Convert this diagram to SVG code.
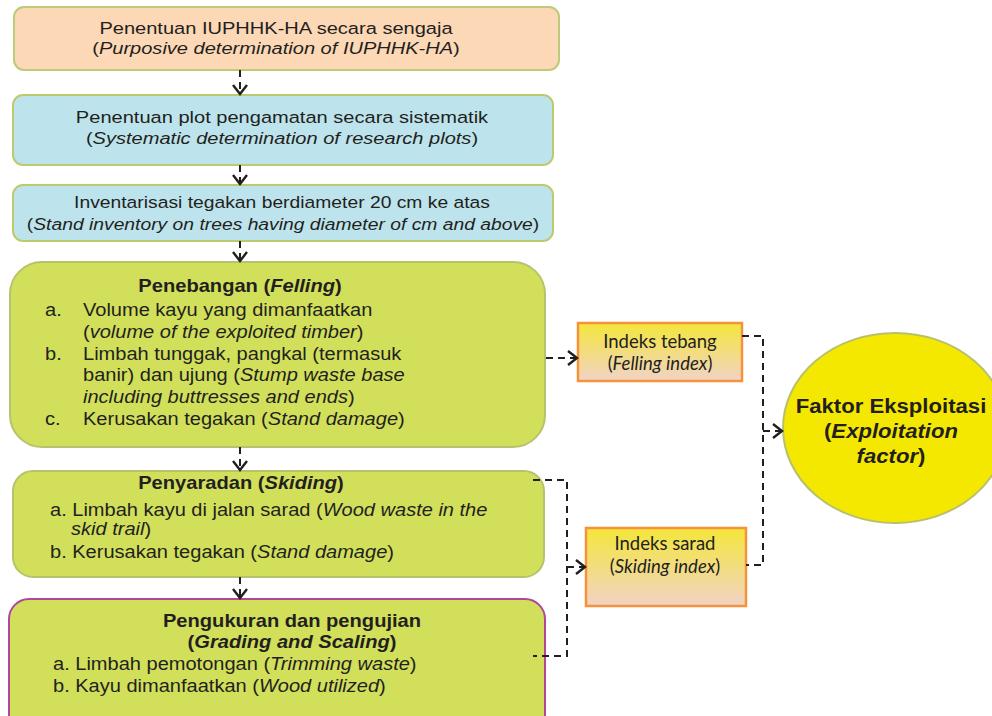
<svg xmlns="http://www.w3.org/2000/svg" width="992" height="716" viewBox="0 0 992 716">
<style>
.t{font-family:"Liberation Sans",Arial,sans-serif;fill:#231f20}
.s0{font-size:17px}
.s1{font-size:16.5px}
.s2{font-size:17.5px}
.s3{font-size:20.5px;font-weight:bold}
.b{font-weight:bold}
.m{text-anchor:middle}
.idx{font-family:Lato,"Open Sans",sans-serif;font-size:18.5px;fill:#231f20;text-anchor:middle}
.peach{fill:#fdd8b6;stroke:#bccb78;stroke-width:2}
.blue{fill:#bde4ec;stroke:#bccb70;stroke-width:2}
.green{fill:#d2df5b;stroke:#b7c36c;stroke-width:2}
.greenp{fill:#d2df5b;stroke:#b0479b;stroke-width:2}
.ibox{fill:url(#ig);stroke:#f7923a;stroke-width:2.5}
.conn path{fill:none;stroke:#231f20;stroke-width:2;stroke-dasharray:7 5}
.conn path.a{marker-end:url(#arr)}
</style>
<defs>
<linearGradient id="ig" x1="0" y1="0" x2="0" y2="1">
<stop offset="0" stop-color="#f4e63a"/>
<stop offset="1" stop-color="#f1d3c6"/>
</linearGradient>
<marker id="arr" markerUnits="userSpaceOnUse" markerWidth="14" markerHeight="18" refX="10" refY="8" orient="auto" overflow="visible">
<path d="M1,1 L10,8 L1,15" fill="none" stroke="#231f20" stroke-width="2.4" stroke-dasharray="none"/>
</marker>
</defs>

<g id="n1">
<rect class="peach" x="14" y="7" width="545" height="63" rx="10"/>
<text class="t s0 m" transform="translate(276,34) scale(1.18 1)">Penentuan IUPHHK-HA secara sengaja</text>
<text class="t s0 m" transform="translate(276,54) scale(1.18 1)">(<tspan font-style="italic">Purposive determination of IUPHHK-HA</tspan>)</text>
</g>

<g id="n2">
<rect class="blue" x="13" y="95" width="540" height="70" rx="10"/>
<text class="t s0 m" transform="translate(282,123) scale(1.18 1)">Penentuan plot pengamatan secara sistematik</text>
<text class="t s0 m" transform="translate(282,144) scale(1.18 1)">(<tspan font-style="italic">Systematic determination of research plots</tspan>)</text>
</g>

<g id="n3">
<rect class="blue" x="13" y="185" width="540" height="56" rx="10"/>
<text class="t s1 m" transform="translate(282,208) scale(1.17 1)">Inventarisasi tegakan berdiameter 20 cm ke atas</text>
<text class="t s1 m" transform="translate(283,230) scale(1.17 1)">(<tspan font-style="italic">Stand inventory on trees having diameter of cm and above</tspan>)</text>
</g>

<g id="n4">
<rect class="green" x="10" y="262" width="535" height="185" rx="32"/>
<text class="t s2 b m" transform="translate(240,292) scale(1.15 1)">Penebangan (<tspan font-style="italic">Felling</tspan>)</text>
<text class="t s2" transform="translate(45,316) scale(1.145 1)">a.</text>
<text class="t s2" transform="translate(83,316) scale(1.145 1)">Volume kayu yang dimanfaatkan</text>
<text class="t s2" transform="translate(83,338) scale(1.145 1)">(<tspan font-style="italic">volume of the exploited timber</tspan>)</text>
<text class="t s2" transform="translate(45,360) scale(1.145 1)">b.</text>
<text class="t s2" transform="translate(83,360) scale(1.145 1)">Limbah tunggak, pangkal (termasuk</text>
<text class="t s2" transform="translate(83,381) scale(1.145 1)">banir) dan ujung (<tspan font-style="italic">Stump waste base</tspan></text>
<text class="t s2" transform="translate(83,403) scale(1.145 1)"><tspan font-style="italic">including buttresses and ends</tspan>)</text>
<text class="t s2" transform="translate(45,425) scale(1.145 1)">c.</text>
<text class="t s2" transform="translate(83,425) scale(1.145 1)">Kerusakan tegakan (<tspan font-style="italic">Stand damage</tspan>)</text>
</g>

<g id="n5">
<rect class="green" x="13" y="471" width="531" height="106" rx="20"/>
<text class="t s2 b m" transform="translate(241,489) scale(1.15 1)">Penyaradan (<tspan font-style="italic">Skiding</tspan>)</text>
<text class="t s2" transform="translate(50,516) scale(1.145 1)">a. Limbah kayu di jalan sarad (<tspan font-style="italic">Wood waste in the</tspan></text>
<text class="t s2" transform="translate(71,535) scale(1.145 1)"><tspan font-style="italic">skid trail</tspan>)</text>
<text class="t s2" transform="translate(50,558) scale(1.145 1)">b. Kerusakan tegakan (<tspan font-style="italic">Stand damage</tspan>)</text>
</g>

<g id="n6">
<rect class="greenp" x="9" y="599" width="536" height="140" rx="20"/>
<text class="t s2 b m" transform="translate(292,627) scale(1.15 1)">Pengukuran dan pengujian</text>
<text class="t s2 b m" transform="translate(292,648) scale(1.15 1)">(<tspan font-style="italic">Grading and Scaling</tspan>)</text>
<text class="t s2" transform="translate(53,670) scale(1.145 1)">a. Limbah pemotongan (<tspan font-style="italic">Trimming waste</tspan>)</text>
<text class="t s2" transform="translate(53,692) scale(1.145 1)">b. Kayu dimanfaatkan (<tspan font-style="italic">Wood utilized</tspan>)</text>
</g>

<g id="n7">
<rect class="ibox" x="578" y="323" width="164" height="58"/>
<text class="idx" x="660" y="348">Indeks tebang</text>
<text class="idx" x="660" y="370">(<tspan font-style="italic">Felling index</tspan>)</text>
</g>

<g id="n8">
<rect class="ibox" x="586" y="528" width="160" height="78"/>
<text class="idx" x="665" y="550">Indeks sarad</text>
<text class="idx" x="665" y="573">(<tspan font-style="italic">Skiding index</tspan>)</text>
</g>

<g id="n9">
<ellipse cx="895" cy="428" rx="112" ry="95" fill="#f5e800" stroke="#b8c06c" stroke-width="2"/>
<text class="t s3 m" transform="translate(891,413) scale(1.08 1)">Faktor Eksploitasi</text>
<text class="t s3 m" transform="translate(891,438) scale(1.08 1)">(<tspan font-style="italic">Exploitation</tspan></text>
<text class="t s3 m" transform="translate(891,463) scale(1.08 1)"><tspan font-style="italic">factor</tspan>)</text>
</g>

<g id="connectors" class="conn">
<path class="a" d="M240,70 V94"/>
<path class="a" d="M240,165 V184"/>
<path class="a" d="M240,241 V261"/>
<path class="a" d="M240,447 V470"/>
<path class="a" d="M240,577 V598"/>
<path class="a" d="M546,358 H577"/>
<path d="M742,336 H763 V565 H746"/>
<path class="a" d="M763,431 H782"/>
<path d="M533,480 H567 V656 H533"/>
<path class="a" d="M567,567 H585"/>
</g>
</svg>
